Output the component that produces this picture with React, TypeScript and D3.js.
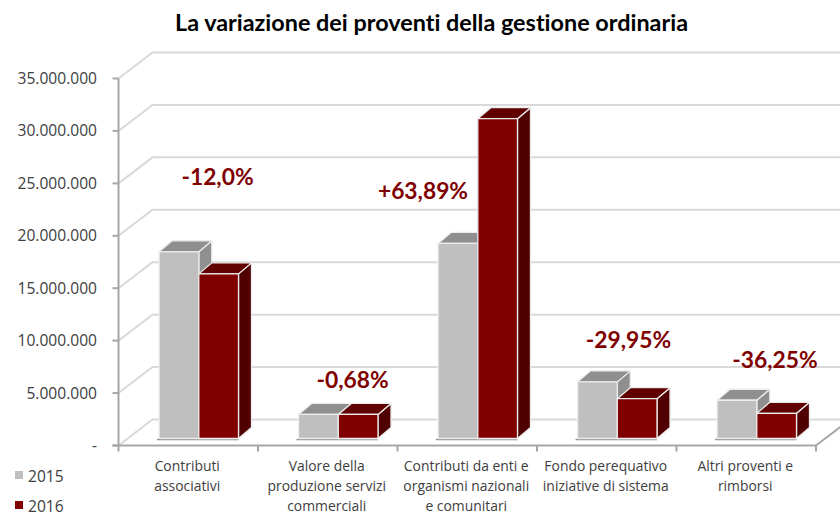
import React from "react";
import * as d3 from "d3";

const categories = [
  ["Contributi", "associativi"],
  ["Valore della", "produzione servizi", "commerciali"],
  ["Contributi da enti e", "organismi nazionali", "e comunitari"],
  ["Fondo perequativo", "iniziative di sistema"],
  ["Altri proventi e", "rimborsi"],
];
const series2015 = [17800000, 2300000, 18600000, 5400000, 3650000];
const series2016 = [15700000, 2300000, 30500000, 3800000, 2400000];
const variations = ["-12,0%", "-0,68%", "+63,89%", "-29,95%", "-36,25%"];
const variationAnchors = [217.5, 352.5, 423, 628.5, 775];
const variationBaselines = [185, 388, 199, 348, 368];
const ticks = [0, 5000000, 10000000, 15000000, 20000000, 25000000, 30000000, 35000000];
const tickLabels = ["-", "5.000.000", "10.000.000", "15.000.000", "20.000.000", "25.000.000", "30.000.000", "35.000.000"];
const title = "La variazione dei proventi della gestione ordinaria";
const legend = [{ name: "2015", color: "#bfbfbf" }, { name: "2016", color: "#800000" }];

const W = 840, H = 513;
const x0 = 118.5, x1 = 816;
const dx = 34, dy = -26;
const barDx = 13, barDy = -11;
const yAxis = d3.scaleLinear().domain([0, 35000000]).range([445.5, 78.5]);
const yBar = d3.scaleLinear().domain([0, 35000000]).range([438.5, 71.5]);
const xBand = d3.scaleBand<number>().domain(d3.range(5)).range([x0, x1]);
const BAR_W = 39.7, GROUP_OFF = 40.6;

const shade: Record<string, { top: string; side: string }> = {
  "#bfbfbf": { top: "#8f8f8f", side: "#8f8f8f" },
  "#800000": { top: "#600000", side: "#500000" },
};

function Bar({ x, value, color }: { x: number; value: number; color: string }) {
  const b = yBar(0), t = yBar(value), r = x + BAR_W;
  const p = (pts: number[][]) => pts.map((q) => q.join(",")).join(" ");
  return (
    <g stroke="#ececec" strokeWidth={1.3} strokeLinejoin="round">
      <polygon points={p([[r, t], [r + barDx, t + barDy], [r + barDx, b + barDy], [r, b]])} fill={shade[color].side} />
      <polygon points={p([[x, t], [x + barDx, t + barDy], [r + barDx, t + barDy], [r, t]])} fill={shade[color].top} />
      <rect x={x} y={t} width={BAR_W} height={b - t} fill={color} />
    </g>
  );
}

export default function App() {
  const label = { fontFamily: "'Open Sans', 'DejaVu Sans', sans-serif", fill: "#404040" };
  return (
    <svg width={W} height={H} style={{ position: "absolute", left: 0, top: 0, background: "#fff" }}>
      <text x={431.5} y={31} textAnchor="middle" fontFamily="Lato, sans-serif" fontWeight={700} fontSize={23.4} fill="#000" style={{ fontVariantLigatures: "none" }}>{title}</text>

      {ticks.map((t) => (
        <polyline key={t} fill="none" stroke="#d9d9d9" strokeWidth={2}
          points={`${x0},${yAxis(t)} ${x0 + dx},${yAxis(t) + dy} ${W},${yAxis(t) + dy}`} />
      ))}
      <polyline fill="none" stroke="#a6a6a6" strokeWidth={2} points={`${x1},${yAxis(0)} ${x1 + dx},${yAxis(0) + dy}`} />

      <line x1={x0} x2={x0} y1={yAxis(35000000)} y2={yAxis(0)} stroke="#a6a6a6" strokeWidth={2} />
      <line x1={x0 - 6} x2={x1} y1={yAxis(0)} y2={yAxis(0)} stroke="#a6a6a6" strokeWidth={2} />
      {ticks.map((t, i) => (
        <g key={t}>
          <line x1={x0 - 6} x2={x0} y1={yAxis(t)} y2={yAxis(t)} stroke="#a6a6a6" strokeWidth={2} />
          <text x={97} y={yAxis(t) + 5.5} textAnchor="end" fontSize={15.6} {...label}>{tickLabels[i]}</text>
        </g>
      ))}
      {d3.range(6).map((i) => {
        const x = x0 + i * xBand.step();
        return <line key={i} x1={x} x2={x} y1={yAxis(0)} y2={yAxis(0) + 6} stroke="#a6a6a6" strokeWidth={2} />;
      })}

      {categories.map((_, i) => {
        const gx = xBand(i)! + GROUP_OFF;
        return (
          <g key={i}>
            <line x1={gx - 2} x2={gx + 2 * BAR_W} y1={yBar(0) + 1} y2={yBar(0) + 1} stroke="#8c8c8c" strokeWidth={1.5} />
            <Bar x={gx + BAR_W} value={series2016[i]} color={legend[1].color} />
            <Bar x={gx} value={series2015[i]} color={legend[0].color} />
            <Bar x={gx + BAR_W} value={series2016[i]} color={legend[1].color} />
          </g>
        );
      })}

      {variations.map((v, i) => (
        <text key={v} x={variationAnchors[i]} y={variationBaselines[i]} textAnchor="middle"
          fontFamily="Lato, sans-serif" fontWeight={700} fontSize={22.8} fill="#800000">{v}</text>
      ))}

      {categories.map((lines, i) => (
        <text key={i} textAnchor="middle" fontSize={13.9} {...label}>
          {lines.map((l, j) => (
            <tspan key={j} x={xBand(i)! + xBand.step() / 2 - 1} y={471 + j * 20}>{l}</tspan>
          ))}
        </text>
      ))}

      {legend.map((l, i) => (
        <g key={l.name}>
          <rect x={15} y={471 + i * 30} width={8} height={8} fill={l.color} />
          <text x={28} y={481.5 + i * 30} fontSize={15.6} {...label}>{l.name}</text>
        </g>
      ))}
    </svg>
  );
}
